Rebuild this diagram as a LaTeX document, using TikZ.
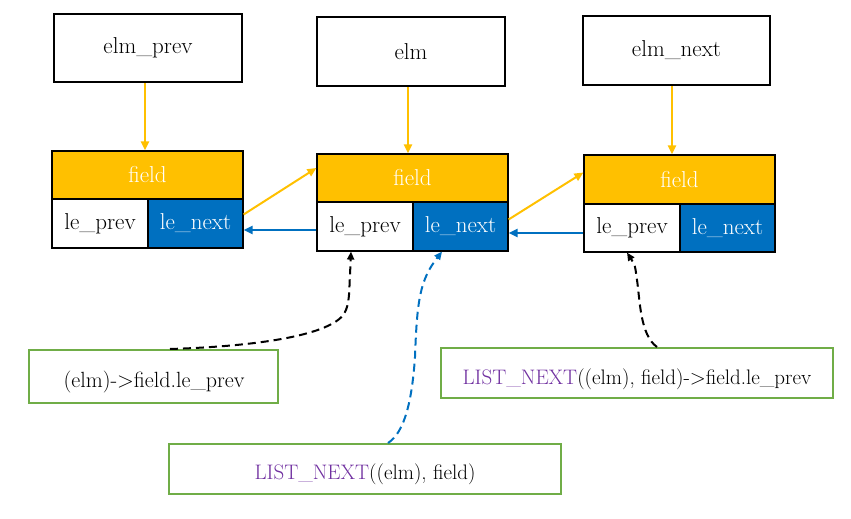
\documentclass[tikz,border=0pt]{standalone}
\usetikzlibrary{arrows.meta,calc}
\definecolor{yel}{HTML}{FFC000}
\definecolor{blu}{HTML}{0070C0}
\definecolor{grn}{HTML}{70AD47}
\definecolor{pur}{HTML}{7030A0}
\begin{document}
\begin{tikzpicture}[x=1pt,y=-1pt,
  txt/.style={font=\fontsize{23}{27}\selectfont},
  gtxt/.style={font=\fontsize{22}{26}\selectfont},
  ltxt/.style={font=\fontsize{21}{25}\selectfont},
  topbox/.style={draw=black,line width=2pt,inner sep=0pt,txt},
  fieldbox/.style={draw=black,line width=1.2pt,fill=yel,inner sep=0pt,txt,text=white},
  prevbox/.style={draw=black,line width=1.2pt,fill=white,inner sep=0pt,txt},
  nextbox/.style={draw=black,line width=1.2pt,fill=blu,inner sep=0pt,txt,text=white},
  greenbox/.style={draw=grn,line width=2pt,inner sep=0pt},
  yarr/.style={draw=yel,line width=2pt,-{Triangle[length=9pt,width=8pt]}},
  barr/.style={draw=blu,line width=2.5pt,-{Triangle[length=9pt,width=8pt]}},
  kdash/.style={draw=black,line width=2pt,dash pattern=on 8pt off 5pt,-{Triangle[length=8pt,width=7pt]}},
  bdash/.style={draw=blu,line width=2pt,dash pattern=on 8pt off 5pt,-{Triangle[length=8pt,width=7pt]}}]
\useasboundingbox (0,0) rectangle (851,519);
% top boxes
\node[topbox,minimum width=188pt,minimum height=68pt] (eprev) at (148,48) {elm\_prev};
\node[topbox,minimum width=188pt,minimum height=69pt] (elm) at (411,51.5) {elm};
\node[topbox,minimum width=187pt,minimum height=69pt] (enext) at (676.5,50.5) {elm\_next};
% struct 1
\node[fieldbox,minimum width=191pt,minimum height=48pt] (f1) at (147.5,175) {field};
\node[prevbox,minimum width=96pt,minimum height=49pt] (p1) at (100,223.5) {le\_prev};
\node[nextbox,minimum width=95pt,minimum height=49pt] (n1) at (195.5,223.5) {le\_next};
% struct 2
\node[fieldbox,minimum width=191pt,minimum height=48pt] (f2) at (412.5,178) {field};
\node[prevbox,minimum width=96pt,minimum height=49pt] (p2) at (365,226.5) {le\_prev};
\node[nextbox,minimum width=95pt,minimum height=49pt] (n2) at (460.5,226.5) {le\_next};
% struct 3
\node[fieldbox,minimum width=191pt,minimum height=49pt] (f3) at (679.5,179.5) {field};
\node[prevbox,minimum width=96pt,minimum height=48pt] (p3) at (632,228) {le\_prev};
\node[nextbox,minimum width=95pt,minimum height=48pt] (n3) at (727.5,228) {le\_next};
% green boxes
\node[greenbox,minimum width=249pt,minimum height=53pt] (g1) at (153.5,376.5) {};
\node[gtxt] (t1) at (154,382) {(elm)->field.le\_prev};
\node[greenbox,minimum width=392pt,minimum height=50pt] (g2) at (365,469) {};
\node[ltxt] (t2) at (365,474) {\textcolor{pur}{LIST\_NEXT}((elm), field)};
\node[greenbox,minimum width=392pt,minimum height=50pt] (g3) at (637,373) {};
\node[ltxt] (t3) at (637,379) {\textcolor{pur}{LIST\_NEXT}((elm), field)->field.le\_prev};
% yellow arrows
\draw[yarr] (eprev.south -| 145,0) -- (f1.north -| 145,0);
\draw[yarr] (elm.south -| 408,0) -- (f2.north -| 408,0);
\draw[yarr] (enext.south -| 672,0) -- (f3.north -| 672,0);
\draw[yarr] ([yshift=9pt]n1.east) -- ([yshift=10pt]f2.west);
\draw[yarr] ([yshift=7pt]n2.east) -- ([yshift=7pt]f3.west);
% blue arrows
\draw[barr] (p2.west |- 0,230) -- (n1.east |- 0,230);
\draw[barr] (p3.west |- 0,233) -- (n2.east |- 0,233);
% dashed connectors
\draw[kdash] (g1.north -| 170,0) .. controls (265,346) and (330,334) .. (344,314) .. controls (350,304) and (349,290) .. (350,275) -- (p2.south -| 351,0);
\draw[bdash] (g2.north -| 388,0) .. controls (405,432) and (412,400) .. (415,357) .. controls (417,300) and (420,280) .. (n2.south -| 442,0);
\draw[kdash] (g3.north -| 657,0) .. controls (640,335) and (640,300) .. (637,280) .. controls (635,265) .. (p3.south -| 627,0);
\end{tikzpicture}
\end{document}
